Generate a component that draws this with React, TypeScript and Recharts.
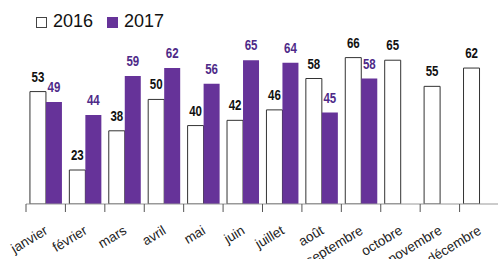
import React from 'react';
import { BarChart, Bar, XAxis, YAxis, LabelList } from 'recharts';

const months = ['janvier', 'février', 'mars', 'avril', 'mai', 'juin', 'juillet', 'août', 'septembre', 'octobre', 'novembre', 'décembre'];
const values2016 = [53, 23, 38, 50, 40, 42, 46, 58, 66, 65, 55, 62];
const values2017: (number | null)[] = [49, 44, 59, 62, 56, 65, 64, 45, 58, null, null, null];

const PURPLE = '#663399';
const PURPLE_TEXT = '#4e2a88';
const NARROW = '"Liberation Sans Narrow", "Arial Narrow", "Liberation Sans", Arial, sans-serif';
const SANS = '"Liberation Sans", Arial, sans-serif';

const data = months.map((m, i) => ({ month: m, y2016: values2016[i], y2017: values2017[i] }));

// tick mark at the category boundary, rotated label under the centre
const MonthTick = (props: any) => {
    const { x, y, payload } = props;
    const half = payload.offset || 19.7;
    const edge = x - half;
    const ax = x + 3;
    const ay = y + 29;
    return (
        <g>
            <line x1={edge} y1={y} x2={edge} y2={y + 8} stroke="#555" strokeWidth={1} />
            <text
                x={ax}
                y={ay}
                textAnchor="end"
                transform={`rotate(-31, ${ax}, ${ay})`}
                fontFamily={SANS}
                fontSize={13.5}
                fill="#222"
            >
                {payload.value}
            </text>
        </g>
    );
};

const makeLabel = (color: string) => (props: any) => {
    const { x, y, width, value } = props;
    if (value === null || value === undefined) return null;
    const txt = String(value);
    return (
        <text
            x={x + width / 2}
            y={y - 10}
            textAnchor="middle"
            fontFamily={NARROW}
            fontWeight="bold"
            fontSize={14.5}
            fill={color}
            textLength={txt.length * 6.4}
            lengthAdjust="spacingAndGlyphs"
        >
            {txt}
        </text>
    );
};

const ChartLegend = () => (
    <div style={{ position: 'absolute', left: 0, top: 0, width: 200, height: 40, fontFamily: SANS, fontSize: 18, color: '#111' }}>
        <span style={{ position: 'absolute', left: 36, top: 17, width: 9, height: 9, border: '1px solid #444', background: '#fff' }} />
        <span style={{ position: 'absolute', left: 53, top: 11, lineHeight: '20px' }}>2016</span>
        <span style={{ position: 'absolute', left: 107, top: 17, width: 11, height: 11, background: PURPLE }} />
        <span style={{ position: 'absolute', left: 124, top: 11, lineHeight: '20px' }}>2017</span>
    </div>
);

export default function App() {
    return (
        <div style={{ position: 'absolute', left: 0, top: 0, width: 498, height: 259, background: '#fff' }}>
            <BarChart
                width={498}
                height={259}
                data={data}
                margin={{ top: 21, right: -1, left: 26, bottom: 5 }}
                barCategoryGap="10%"
                barGap={0}
            >
                <XAxis
                    dataKey="month"
                    height={50}
                    interval={0}
                    tickSize={0}
                    tickMargin={0}
                    tickLine={false}
                    axisLine={{ stroke: '#999', strokeWidth: 1 }}
                    tick={<MonthTick />}
                />
                <YAxis hide width={0} domain={[10, 80]} allowDataOverflow />
                <Bar dataKey="y2016" fill="#fff" stroke="#333" strokeWidth={1} isAnimationActive={false}>
                    <LabelList dataKey="y2016" content={makeLabel('#111')} />
                </Bar>
                <Bar dataKey="y2017" fill={PURPLE} isAnimationActive={false}>
                    <LabelList dataKey="y2017" content={makeLabel(PURPLE_TEXT)} />
                </Bar>
            </BarChart>
            <ChartLegend />
        </div>
    );
}
